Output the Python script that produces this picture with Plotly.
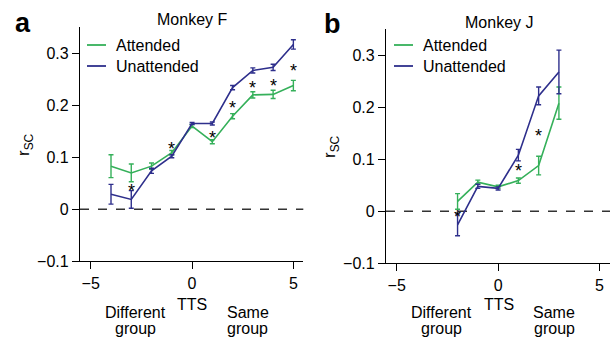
import plotly.graph_objects as go

# ---- data ----
tts_F = [-4, -3, -2, -1, 0, 1, 2, 3, 4, 5]
att_F = [0.083, 0.070, 0.083, 0.109, 0.160, 0.130, 0.179, 0.220, 0.221, 0.238]
att_F_err = [0.022, 0.017, 0.006, 0.004, 0.003, 0.004, 0.005, 0.006, 0.008, 0.010]
una_F = [0.029, 0.019, 0.074, 0.102, 0.165, 0.165, 0.234, 0.267, 0.273, 0.317]
una_F_err = [0.019, 0.017, 0.005, 0.003, 0.002, 0.003, 0.004, 0.005, 0.006, 0.009]
star_F_x = [-3, -1, 1, 2, 3, 4, 5]
star_F_y = [0.045, 0.126, 0.146, 0.205, 0.242, 0.247, 0.276]

tts_J = [-2, -1, 0, 1, 2, 3]
att_J = [0.019, 0.056, 0.047, 0.059, 0.088, 0.208]
att_J_err = [0.015, 0.004, 0.003, 0.005, 0.018, 0.031]
una_J = [-0.026, 0.048, 0.044, 0.108, 0.222, 0.268]
una_J_err = [0.021, 0.004, 0.003, 0.011, 0.017, 0.042]
star_J_x = [-2, 1, 2]
star_J_y = [-0.001, 0.088, 0.155]

xticks = [-5, 0, 5]
xticklabels = ["\u22125", "0", "5"]
yticks = [-0.1, 0, 0.1, 0.2, 0.3]
yticklabels = ["\u22120.1", "0", "0.1", "0.2", "0.3"]

GREEN = "#35b05a"
BLUE = "#2e2f8c"
FONT = "Liberation Sans"
W, H = 616, 344

fig = go.Figure()
ann = []

def add_panel(xs, att, atte, una, unae, sx, sy, xa, ya):
    fig.add_trace(go.Scatter(x=xs, y=att, mode="lines", name="Attended",
                             line=dict(color=GREEN, width=1.6),
                             error_y=dict(type="data", array=atte, color=GREEN, thickness=1.4, width=2.5),
                             xaxis=xa, yaxis=ya, showlegend=False))
    fig.add_trace(go.Scatter(x=xs, y=una, mode="lines", name="Unattended",
                             line=dict(color=BLUE, width=1.6),
                             error_y=dict(type="data", array=unae, color=BLUE, thickness=1.4, width=2.5),
                             xaxis=xa, yaxis=ya, showlegend=False))
    # significance stars (asterisk glyph sits high in its box, so shift down)
    for x, y in zip(sx, sy):
        ann.append(dict(x=x, y=y, xref=xa, yref=ya, text="*", showarrow=False,
                        xanchor="center", yanchor="middle", yshift=-5,
                        font=dict(family=FONT, size=18, color="black")))

add_panel(tts_F, att_F, att_F_err, una_F, una_F_err, star_F_x, star_F_y, "x", "y")
add_panel(tts_J, att_J, att_J_err, una_J, una_J_err, star_J_x, star_J_y, "x2", "y2")

axis_common = dict(showline=True, linecolor="black", linewidth=1.3, ticks="outside",
                   ticklen=7, tickwidth=1.3, tickcolor="black", showgrid=False, zeroline=False,
                   automargin=False,
                   tickfont=dict(family=FONT, size=16, color="black"))

fig.update_layout(
    width=W, height=H, margin=dict(l=0, r=0, t=0, b=0, pad=0, autoexpand=False),
    paper_bgcolor="white", plot_bgcolor="white", showlegend=False,
    xaxis=dict(domain=[80 / W, 303.3 / W], range=[-5.53, 5.49], tickvals=xticks, ticktext=xticklabels,
               anchor="y", **axis_common),
    yaxis=dict(domain=[1 - 261.3 / H, 1 - 27.3 / H], range=[-0.1, 0.35], tickvals=yticks, ticktext=yticklabels,
               anchor="x", **axis_common),
    xaxis2=dict(domain=[386 / W, 610 / W], range=[-5.53, 5.52], tickvals=xticks, ticktext=xticklabels,
                anchor="y2", **axis_common),
    yaxis2=dict(domain=[1 - 263.3 / H, 1 - 29.3 / H], range=[-0.1, 0.35], tickvals=yticks, ticktext=yticklabels,
                anchor="x2", **axis_common),
)

# dashed zero lines
for xa, ya in [("x", "y"), ("x2", "y2")]:
    fig.add_shape(type="line", xref=xa + " domain", yref=ya, x0=0, x1=1, y0=0, y1=0,
                  line=dict(color="#333333", width=1.4, dash="dash"), layer="below")

def txt(x, y, s, size=16, xref="paper", yref="paper", xanchor="center", yanchor="middle",
        bold=False, angle=0):
    ann.append(dict(x=x, y=y, xref=xref, yref=yref, text=(f"<b>{s}</b>" if bold else s),
                    showarrow=False, xanchor=xanchor, yanchor=yanchor, textangle=angle,
                    font=dict(family=FONT, size=size, color="black")))

def px(x, y):
    return x / W, 1 - y / H

# panel letters and titles
for (lx, ly, letter) in [(13, 23, "a"), (322, 24, "b")]:
    a, b = px(lx, ly)
    txt(a, b, letter, size=27, xanchor="left", bold=True)
for (cx, cy, t) in [(192, 20, "Monkey F"), (499, 22, "Monkey J")]:
    a, b = px(cx, cy)
    txt(a, b, t, size=16)

# y-axis labels
for (cx, cy) in [(25, 145), (331, 147)]:
    a, b = px(cx, cy)
    txt(a, b, "r<sub>SC</sub>", size=17, angle=-90)

# legends
for (ox, oy) in [(87, 45), (394, 45)]:
    for i, (lbl, col) in enumerate([("Attended", GREEN), ("Unattended", BLUE)]):
        yy = oy + i * 21
        x0, y0 = px(ox, yy)
        x1, _ = px(ox + 19, yy)
        fig.add_shape(type="line", xref="paper", yref="paper", x0=x0, x1=x1, y0=y0, y1=y0,
                      line=dict(color=col, width=1.8))
        a, b = px(ox + 27, yy)
        txt(a, b, lbl, size=16, xanchor="left")

# x-axis group labels
for xa in ["x", "x2"]:
    txt(-2.81, 1 - 312 / H, "Different", xref=xa)
    txt(-2.81, 1 - 328 / H, "group", xref=xa)
    txt(0.02, 1 - 304 / H, "TTS", xref=xa)
    txt(2.76, 1 - 312 / H, "Same", xref=xa)
    txt(2.76, 1 - 328 / H, "group", xref=xa)

fig.update_layout(annotations=ann)
fig.write_html("out.html")
